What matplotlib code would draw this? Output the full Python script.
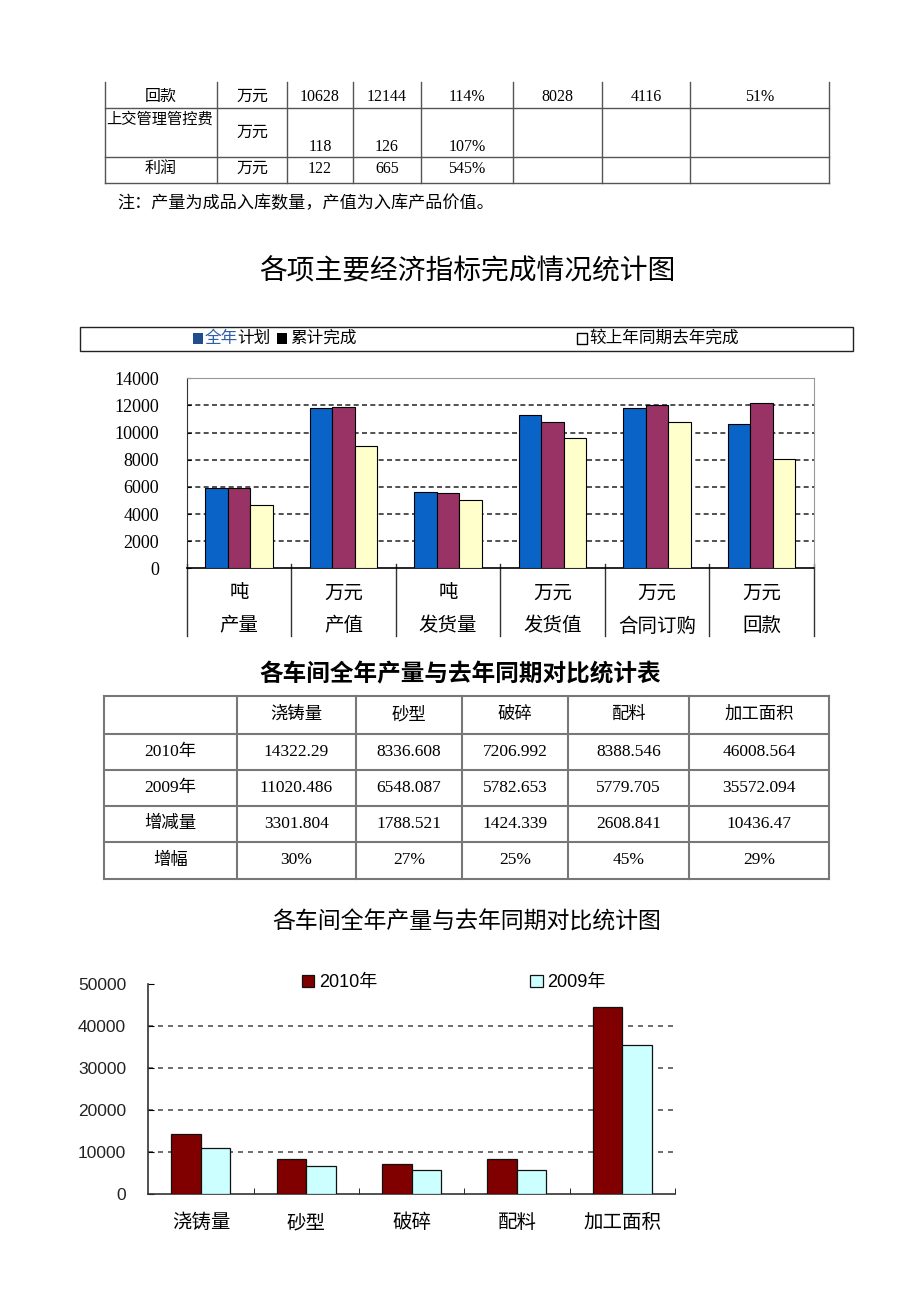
import matplotlib
matplotlib.use("Agg")
import numpy as np
from matplotlib import pyplot as plt
from matplotlib.patches import Rectangle

plt.rcParams['font.family'] = ['Liberation Serif', 'Noto Sans CJK SC', 'DejaVu Sans']
CJK = ['Noto Sans CJK SC', 'DejaVu Sans']
SANS = ['Liberation Sans', 'Noto Sans CJK SC']

# ---- top table (tail of the previous page) ----
top_rows = [
    ["回款", "万元", "10628", "12144", "114%", "8028", "4116", "51%"],
    ["上交管理管控费", "万元", "118", "126", "107%", "", "", ""],
    ["利润", "万元", "122", "665", "545%", "", "", ""],
]
note_text = "注：产量为成品入库数量，产值为入库产品价值。"

# ---- chart 1 data ----
title1 = "各项主要经济指标完成情况统计图"
cat1_units = ["吨", "万元", "吨", "万元", "万元", "万元"]
cat1_names = ["产量", "产值", "发货量", "发货值", "合同订购", "回款"]
plan = [5900, 11800, 5650, 11300, 11800, 10628]
done = [5900, 11900, 5550, 10800, 12000, 12144]
last_year = [4650, 9000, 5050, 9600, 10800, 8028]
series1_colors = ["#0A64C8", "#993366", "#FFFFCC"]

# ---- table 2 data ----
title2 = "各车间全年产量与去年同期对比统计表"
workshops = ["浇铸量", "砂型", "破碎", "配料", "加工面积"]
row_names = ["2010年", "2009年", "增减量", "增幅"]
t2010 = ["14322.29", "8336.608", "7206.992", "8388.546", "46008.564"]
t2009 = ["11020.486", "6548.087", "5782.653", "5779.705", "35572.094"]
tdiff = ["3301.804", "1788.521", "1424.339", "2608.841", "10436.47"]
tpct = ["30%", "27%", "25%", "45%", "29%"]

# ---- chart 2 data ----
title3 = "各车间全年产量与去年同期对比统计图"
bars2010 = [14322, 8337, 7207, 8389, 44600]
bars2009 = [11020, 6548, 5783, 5780, 35572]
series2_labels = ["2010年", "2009年"]
series2_colors = ["#800000", "#CCFFFF"]

W, H = 920, 1301
fig = plt.figure(figsize=(W / 100, H / 100), dpi=100)
fig.patch.set_facecolor("white")

bg = fig.add_axes([0, 0, 1, 1])
bg.set_xlim(0, W)
bg.set_ylim(H, 0)
bg.axis("off")


def px_rect(x0, y0, x1, y1):
    return [x0 / W, 1 - y1 / H, (x1 - x0) / W, (y1 - y0) / H]


# top table
cols = [105, 217, 287, 353, 421, 513, 602, 690, 829]
for x in cols:
    bg.plot([x, x], [82, 183], color="#555555", lw=1)
for y in [108, 157, 183]:
    bg.plot([cols[0], cols[-1]], [y, y], color="#555555", lw=1)
centers = [(cols[i] + cols[i + 1]) / 2 for i in range(len(cols) - 1)]
fs_t1 = 11.5
for j, txt in enumerate(top_rows[0]):
    bg.text(centers[j], 97, txt, ha="center", va="center", fontsize=fs_t1)
bg.text(cols[0] + 1, 119, top_rows[1][0], ha="left", va="center", fontsize=11)
bg.text(centers[1], 133, top_rows[1][1], ha="center", va="center", fontsize=fs_t1)
for j in range(2, len(top_rows[1])):
    bg.text(centers[j], 147, top_rows[1][j], ha="center", va="center", fontsize=fs_t1)
for j, txt in enumerate(top_rows[2]):
    bg.text(centers[j], 169, txt, ha="center", va="center", fontsize=fs_t1)
bg.text(117, 204, note_text, ha="left", va="center", fontsize=12.3)

# title 1 and its legend box
bg.text(467, 271, title1, ha="center", va="center", fontsize=20, family=CJK)
bg.add_patch(Rectangle((80, 327), 773, 24, fill=False, edgecolor="#222222", lw=1))
bg.add_patch(Rectangle((193, 333), 10, 11, facecolor="#1F4E8C", edgecolor="none"))
bg.text(205, 339, "全年", ha="left", va="center", fontsize=12, color="#2E5FA8")
bg.text(237, 339, "计划", ha="left", va="center", fontsize=12)
bg.add_patch(Rectangle((277, 333), 10, 11, facecolor="black", edgecolor="none"))
bg.text(290, 339, "累计完成", ha="left", va="center", fontsize=12)
bg.add_patch(Rectangle((577, 333), 10, 11, facecolor="white", edgecolor="black", lw=1))
bg.text(589, 339, "较上年同期去年完成", ha="left", va="center", fontsize=12)

# chart 1
ax1 = fig.add_axes(px_rect(186.7, 378.3, 813.7, 568.3))
x1 = np.arange(len(cat1_names))
w1 = 0.215
for k, vals in enumerate([plan, done, last_year]):
    ax1.bar(x1 + (k - 1) * w1, vals, width=w1, color=series1_colors[k],
            edgecolor="black", linewidth=0.8, zorder=3)
ax1.set_xlim(-0.5, len(cat1_names) - 0.5)
ax1.set_ylim(0, 14000)
ax1.set_yticks(np.arange(0, 14001, 2000))
ax1.tick_params(axis="y", direction="in", length=3, labelsize=13, pad=20)
ax1.set_xticks([])
for y in range(2000, 14000, 2000):
    ax1.axhline(y, color="#333333", lw=1.2, ls=(0, (3, 2)), zorder=1)
for s in ["top", "right"]:
    ax1.spines[s].set_color("#999999")
ax1.spines["left"].set_color("#333333")
ax1.spines["bottom"].set_color("black")
ax1.spines["bottom"].set_linewidth(1.2)
for b in np.arange(-0.5, len(cat1_names), 1.0):
    ax1.plot([b, b], [300, -5000], color="#333333", lw=1, clip_on=False)
for i in range(len(cat1_names)):
    ax1.text(x1[i], -1820, cat1_units[i], ha="center", va="center",
             fontsize=14, family=CJK, weight="medium", clip_on=False)
    ax1.text(x1[i], -4250, cat1_names[i], ha="center", va="center",
             fontsize=14, family=CJK, weight="medium", clip_on=False)

# title 2 and table 2
bg.text(460, 674, title2, ha="center", va="center", fontsize=17,
        family=CJK, weight="bold")
tcols = [104, 237, 356, 462, 568, 689, 829]
trows = [696, 734, 770, 806, 842, 879]
for x in tcols:
    bg.plot([x, x], [trows[0], trows[-1]], color="#777777", lw=1.5)
for y in trows:
    bg.plot([tcols[0], tcols[-1]], [y, y], color="#777777", lw=1.5)
tc = [(tcols[i] + tcols[i + 1]) / 2 for i in range(len(tcols) - 1)]
tr = [(trows[i] + trows[i + 1]) / 2 for i in range(len(trows) - 1)]
for j, name in enumerate(workshops):
    bg.text(tc[j + 1], tr[0], name, ha="center", va="center", fontsize=12.5)
for i, (name, vals) in enumerate(zip(row_names, [t2010, t2009, tdiff, tpct])):
    bg.text(tc[0], tr[i + 1], name, ha="center", va="center", fontsize=12.5)
    for j, v in enumerate(vals):
        bg.text(tc[j + 1], tr[i + 1], v, ha="center", va="center", fontsize=12.5)

# title 3 and chart 2
bg.text(467, 922, title3, ha="center", va="center", fontsize=16.5, family=CJK)
ax2 = fig.add_axes(px_rect(148.3, 984, 675, 1194))
x2 = np.arange(len(workshops))
w2 = 0.28
handles = []
for k, vals in enumerate([bars2010, bars2009]):
    h = ax2.bar(x2 + (k - 0.5) * w2, vals, width=w2, color=series2_colors[k],
                edgecolor="#111111", linewidth=0.9, zorder=3, label=series2_labels[k])
    handles.append(h)
ax2.set_xlim(-0.5, len(workshops) - 0.5)
ax2.set_ylim(0, 50000)
ax2.set_yticks(np.arange(0, 50001, 10000))
for lab in ax2.get_yticklabels():
    lab.set_family(SANS)
ax2.tick_params(axis="y", direction="in", length=4, labelsize=12.5, pad=16,
                labelcolor="#222222")
ax2.set_xticks(x2)
ax2.set_xticklabels(workshops, family=CJK, fontsize=14, weight="medium")
ax2.tick_params(axis="x", length=0, pad=13)
ax2.set_xticks(np.arange(0.5, len(workshops), 1.0), minor=True)
ax2.tick_params(axis="x", which="minor", direction="in", length=4)
for y in range(10000, 50000, 10000):
    ax2.axhline(y, color="#555555", lw=1.2, ls=(0, (3, 3)), zorder=1)
ax2.spines["top"].set_visible(False)
ax2.spines["right"].set_visible(False)
ax2.spines["left"].set_color("#333333")
ax2.spines["bottom"].set_color("#333333")
ax2.spines["left"].set_linewidth(1.2)
ax2.spines["bottom"].set_linewidth(1.2)
leg = ax2.legend(handles=handles, loc="center", bbox_to_anchor=(0.58, 1.005),
                 ncol=2, frameon=False, handlelength=0.7, handleheight=0.7,
                 handletextpad=0.25, columnspacing=8.5, prop={"family": SANS, "size": 13})
for t in leg.get_texts():
    t.set_family(['Liberation Sans', 'Noto Sans CJK SC'])

fig.savefig("out.png", dpi=100, facecolor="white")
